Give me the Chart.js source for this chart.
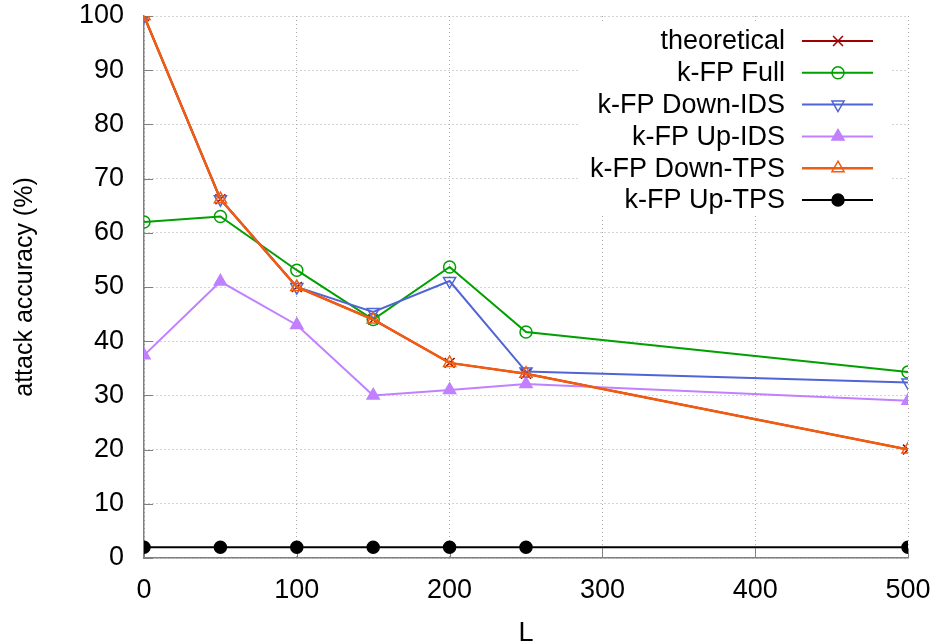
<!DOCTYPE html>
<html>
<head>
<meta charset="utf-8">
<script src="https://cdn.jsdelivr.net/npm/chart.js@4.4.1/dist/chart.umd.min.js"></script>
<style>
  html, body { margin: 0; padding: 0; background: #fff; }
  #wrap { width: 939px; height: 644px; }
</style>
</head>
<body>
<div id="wrap"><canvas id="accuracyChart" width="939" height="644"></canvas></div>
<script>
// L values on the x axis
const lengths = [0, 50, 100, 150, 200, 250, 500];
const xTicks = [0, 100, 200, 300, 400, 500];
const yTicks = [0, 10, 20, 30, 40, 50, 60, 70, 80, 90, 100];

// attack accuracy (%) per series
const theoretical = [100, 66.2, 50, 44, 36, 34, 20];
const kfpFull = [62, 63, 53.1, 44, 53.7, 41.7, 34.3];
const kfpDownIds = [100, 66.2, 50, 45.4, 51.1, 34.4, 32.4];
const kfpUpIds = [37.4, 51, 43, 30, 31, 32.1, 29];
const kfpDownTps = [100, 66.2, 50, 44, 36, 34, 20];
const kfpUpTps = [2, 2, 2, 2, 2, 2, 2];

const FONT = '"Liberation Sans", Arial, Helvetica, sans-serif';

const series = [
    { label: 'theoretical', values: theoretical, color: '#a00000', width: 2, marker: 'crossRot', radius: 7, rot: 0, filled: false, order: 5 },
    { label: 'k-FP Full', values: kfpFull, color: '#00a000', width: 2, marker: 'circle', radius: 6, rot: 0, filled: false, order: 4 },
    { label: 'k-FP Down-IDS', values: kfpDownIds, color: '#5064d4', width: 2, marker: 'triangle', radius: 7, rot: 180, filled: false, order: 3 },
    { label: 'k-FP Up-IDS', values: kfpUpIds, color: '#c080ff', width: 2, marker: 'triangle', radius: 7, rot: 0, filled: true, order: 2 },
    { label: 'k-FP Down-TPS', values: kfpDownTps, color: '#f25c0f', width: 2.5, marker: 'triangle', radius: 7, rot: 0, filled: false, order: 1 },
    { label: 'k-FP Up-TPS', values: kfpUpTps, color: '#000000', width: 2, marker: 'circle', radius: 6, rot: 0, filled: true, order: 0 }
];

function drawMarker(ctx, s, x, y) {
    const r = s.radius;
    ctx.save();
    ctx.strokeStyle = s.color;
    ctx.fillStyle = s.color;
    ctx.lineWidth = 1.5;
    ctx.beginPath();
    if (s.marker === 'crossRot') {
        const d = r * Math.SQRT1_2;
        ctx.moveTo(x - d, y - d); ctx.lineTo(x + d, y + d);
        ctx.moveTo(x + d, y - d); ctx.lineTo(x - d, y + d);
        ctx.stroke();
    } else if (s.marker === 'circle') {
        ctx.arc(x, y, r, 0, Math.PI * 2);
        if (s.filled) ctx.fill();
        ctx.stroke();
    } else {
        let rad = s.rot * Math.PI / 180;
        ctx.moveTo(x + Math.sin(rad) * r, y - Math.cos(rad) * r);
        rad += Math.PI * 2 / 3;
        ctx.lineTo(x + Math.sin(rad) * r, y - Math.cos(rad) * r);
        rad += Math.PI * 2 / 3;
        ctx.lineTo(x + Math.sin(rad) * r, y - Math.cos(rad) * r);
        ctx.closePath();
        if (s.filled) ctx.fill();
        ctx.stroke();
    }
    ctx.restore();
}

// gnuplot style key: text right aligned, sample line + marker on the right
const keyPlugin = {
    id: 'gnuKey',
    afterDraw(chart) {
        const ctx = chart.ctx;
        ctx.save();
        ctx.fillStyle = '#ffffff';
        ctx.fillRect(578, 22, 312, 194);
        ctx.font = '27px ' + FONT;
        ctx.textAlign = 'right';
        ctx.textBaseline = 'middle';
        series.forEach((s, i) => {
            const y = 41 + i * 31.8;
            ctx.fillStyle = '#000';
            ctx.fillText(s.label, 785, y + 1);
            ctx.strokeStyle = s.color;
            ctx.lineWidth = s.width;
            ctx.beginPath();
            ctx.moveTo(802, y);
            ctx.lineTo(873, y);
            ctx.stroke();
            drawMarker(ctx, s, 838, y);
        });
        ctx.restore();
    }
};

// small inward tick marks on the left and bottom borders
const tickPlugin = {
    id: 'inTicks',
    beforeDatasetsDraw(chart) {
        const ctx = chart.ctx;
        const area = chart.chartArea;
        const xs = chart.scales.x, ys = chart.scales.y;
        ctx.save();
        ctx.strokeStyle = '#808080';
        ctx.lineWidth = 1;
        ctx.beginPath();
        yTicks.forEach(v => {
            const py = Math.round(ys.getPixelForValue(v)) + 0.5;
            ctx.moveTo(area.left, py);
            ctx.lineTo(area.left + 9, py);
        });
        xTicks.forEach(v => {
            const px = Math.round(xs.getPixelForValue(v)) + 0.5;
            ctx.moveTo(px, area.bottom);
            ctx.lineTo(px, area.bottom - 9);
        });
        ctx.stroke();
        ctx.restore();
    }
};

new Chart(document.getElementById('accuracyChart').getContext('2d'), {
    type: 'line',
    data: {
        datasets: series.map(s => ({
            label: s.label,
            data: lengths.map((l, i) => ({ x: l, y: s.values[i] })),
            borderColor: s.color,
            borderWidth: s.width,
            pointStyle: s.marker,
            pointRadius: s.radius,
            pointRotation: s.rot,
            pointBorderWidth: 1.5,
            pointBorderColor: s.color,
            pointBackgroundColor: s.filled ? s.color : 'rgba(0,0,0,0)',
            tension: 0,
            fill: false,
            order: s.order
        }))
    },
    options: {
        responsive: false,
        animation: false,
        devicePixelRatio: 1,
        layout: { padding: { top: 16, right: 31, bottom: 0, left: 0 } },
        plugins: {
            legend: { display: false },
            tooltip: { enabled: false }
        },
        scales: {
            x: {
                type: 'linear',
                min: 0,
                max: 500,
                afterFit: scale => {
                    scale.height = 86;
                    scale.paddingLeft = 0;
                    scale.paddingRight = 0;
                },
                afterBuildTicks: scale => { scale.ticks = xTicks.map(v => ({ value: v })); },
                ticks: { autoSkip: false, maxRotation: 0, padding: 16, color: '#000', font: { family: FONT, size: 27 } },
                grid: { color: '#a8a8a8', lineWidth: 1, drawTicks: false },
                border: { display: true, color: '#808080', width: 1.5, dash: [1, 3] },
                title: { display: true, text: 'L', color: '#000', font: { family: FONT, size: 27, lineHeight: 1 }, padding: { top: 0, bottom: -3 } }
            },
            y: {
                min: 0,
                max: 100,
                afterFit: scale => {
                    scale.width = 144;
                    scale.paddingTop = 0;
                    scale.paddingBottom = 0;
                },
                afterBuildTicks: scale => { scale.ticks = yTicks.map(v => ({ value: v })); },
                ticks: { padding: 20, color: '#000', font: { family: FONT, size: 27 } },
                grid: { color: '#a8a8a8', lineWidth: 1, drawTicks: false },
                border: { display: true, color: '#808080', width: 1.5, dash: [1, 3] },
                title: { display: true, text: 'attack accuracy (%)', color: '#000', font: { family: FONT, size: 25 }, padding: { top: 10, bottom: 0 } }
            }
        }
    },
    plugins: [tickPlugin, keyPlugin]
});
</script>
</body>
</html>
